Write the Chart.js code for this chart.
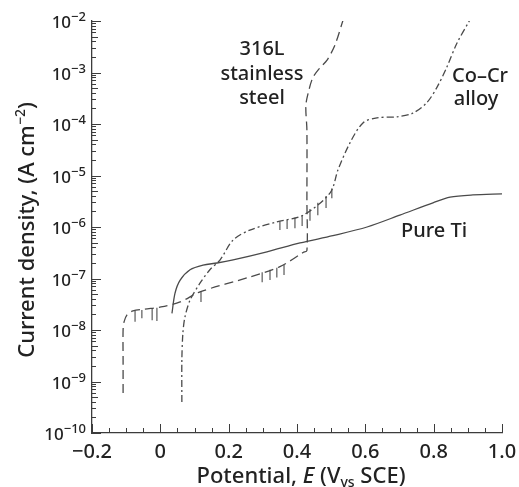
<!DOCTYPE html>
<html>
<head>
<meta charset="utf-8">
<script src="https://cdn.jsdelivr.net/npm/chart.js@4.4.1/dist/chart.umd.min.js"></script>
<style>
  html, body { margin: 0; padding: 0; background: #fff; }
  #wrap { width: 519px; height: 487px; }
</style>
</head>
<body>
<div id="wrap"><canvas id="myChart" width="519" height="487"></canvas></div>
<script>
const ctx = document.getElementById('myChart');

// potential (V vs SCE) and current density (A cm-2)
const ssE = [-0.109, -0.109, -0.109, -0.106, -0.098, -0.080, -0.045, 0.002, 0.058, 0.116, 0.262, 0.350, 0.418, 0.429, 0.429, 0.429, 0.426, 0.435, 0.447, 0.467, 0.488, 0.511, 0.535];
const ssI = [6.0e-10, 2.5e-9, 1.0e-8, 1.45e-8, 1.95e-8, 2.35e-8, 2.55e-8, 2.8e-8, 3.5e-8, 5.5e-8, 1.07e-7, 1.7e-7, 3.2e-7, 3.5e-7, 3.3e-6, 7.6e-5, 2.3e-4, 4.6e-4, 8.1e-4, 1.23e-3, 1.74e-3, 3.4e-3, 1.05e-2];

const coE = [0.063, 0.063, 0.066, 0.072, 0.087, 0.116, 0.145, 0.175, 0.213, 0.262, 0.341, 0.418, 0.497, 0.520, 0.555, 0.593, 0.634, 0.693, 0.739, 0.780, 0.810, 0.839, 0.868, 0.906];
const coI = [4.0e-10, 2.6e-9, 8.7e-9, 1.78e-8, 3.8e-8, 8.1e-8, 1.48e-7, 2.3e-7, 5.6e-7, 8.7e-7, 1.26e-6, 1.7e-6, 4.6e-6, 1.29e-5, 4.3e-5, 1.05e-4, 1.32e-4, 1.38e-4, 1.62e-4, 2.6e-4, 5.2e-4, 1.29e-3, 3.7e-3, 1.05e-2];

const tiE = [0.034, 0.043, 0.058, 0.087, 0.125, 0.166, 0.213, 0.312, 0.409, 0.505, 0.605, 0.701, 0.798, 0.848, 0.915, 1.0];
const tiI = [2.1e-8, 5.2e-8, 9.3e-8, 1.48e-7, 1.82e-7, 2.0e-7, 2.3e-7, 3.3e-7, 4.9e-7, 6.8e-7, 1.0e-6, 1.7e-6, 2.95e-6, 3.8e-6, 4.2e-6, 4.4e-6];

// current transients (small spikes) on the curves
const ssSpikeE = [-0.074, -0.054, -0.024, -0.010, 0.119, 0.298, 0.321, 0.341, 0.362];
const ssSpikeTop = [2.4e-8, 2.45e-8, 2.6e-8, 2.7e-8, 5.6e-8, 1.32e-7, 1.48e-7, 1.62e-7, 1.82e-7];
const ssSpikeLow = [1.45e-8, 1.7e-8, 1.55e-8, 1.5e-8, 3.5e-8, 8.5e-8, 9.3e-8, 1.05e-7, 1.17e-7];

const coSpikeE = [0.350, 0.371, 0.394, 0.415, 0.438, 0.461, 0.485, 0.502];
const coSpikeTop = [1.29e-6, 1.38e-6, 1.51e-6, 1.7e-6, 2.24e-6, 2.95e-6, 4.0e-6, 5.6e-6];
const coSpikeLow = [8.7e-7, 9.1e-7, 9.5e-7, 1.05e-6, 1.32e-6, 1.7e-6, 2.34e-6, 3.6e-6];

// axis labels
const xTickValues = [-0.2, 0, 0.2, 0.4, 0.6, 0.8, 1.0];
const xTickLabels = ['\u22120.2', '0', '0.2', '0.4', '0.6', '0.8', '1.0'];
const yExponents = [-2, -3, -4, -5, -6, -7, -8, -9, -10];

const FONT = '"Noto Sans", "Liberation Sans", Arial, sans-serif';
const W = '500 ';
const textColor = '#222222';
const lineColor = '#4a4a4a';
const axisColor = '#3c3c3c';

function toPoints(xs, ys) {
  return xs.map((v, i) => ({ x: v, y: ys[i] }));
}
function spikes(xs, tops, lows) {
  const pts = [];
  xs.forEach((v, i) => {
    pts.push({ x: v, y: tops[i] }, { x: v, y: lows[i] }, { x: v, y: null });
  });
  return pts;
}

// draw a list of text runs one after another
function drawRuns(c, runs, x, y) {
  let cx = x;
  runs.forEach(r => {
    c.font = r.font;
    c.fillText(r.text, cx, y + (r.dy || 0));
    cx += c.measureText(r.text).width;
  });
}
function runsWidth(c, runs) {
  let w = 0;
  runs.forEach(r => { c.font = r.font; w += c.measureText(r.text).width; });
  return w;
}

const axisDecor = {
  id: 'axisDecor',
  afterDraw(chart) {
    const c = chart.ctx;
    const xs = chart.scales.x, ys = chart.scales.y;
    const bottom = ys.bottom, left = xs.left;
    c.save();
    c.strokeStyle = axisColor;
    c.lineWidth = 1;

    // x ticks, pointing inward
    for (let i = 0; i <= 24; i++) {
      const px = Math.round(xs.getPixelForValue(-0.2 + i * 0.05)) + 0.5;
      const len = i % 4 === 0 ? 9 : 5;
      c.beginPath(); c.moveTo(px, bottom); c.lineTo(px, bottom - len); c.stroke();
    }
    // y ticks, pointing inward
    for (let e = -10; e <= -2; e++) {
      for (let m = 1; m <= 9; m++) {
        if (e === -2 && m > 1) break;
        const py = Math.round(ys.getPixelForValue(m * Math.pow(10, e))) + 0.5;
        const len = m === 1 ? 9 : (m === 5 ? 6 : 4);
        c.beginPath(); c.moveTo(left, py); c.lineTo(left + len, py); c.stroke();
      }
    }

    c.fillStyle = textColor;
    c.textBaseline = 'alphabetic';

    // x tick labels
    c.font = W + '20px ' + FONT;
    c.textAlign = 'center';
    xTickValues.forEach((v, i) => {
      c.fillText(xTickLabels[i], xs.getPixelForValue(v), 458);
    });

    // y tick labels 10^n
    c.textAlign = 'left';
    yExponents.forEach(e => {
      const py = ys.getPixelForValue(Math.pow(10, e));
      const runs = [
        { text: '10', font: W + '17px ' + FONT, dy: 7 },
        { text: '\u2212' + (-e), font: W + '13px ' + FONT, dy: 0 }
      ];
      drawRuns(c, runs, 86 - runsWidth(c, runs), py);
    });

    // x axis title
    const xt = [
      { text: 'Potential, ', font: W + '22px ' + FONT },
      { text: 'E', font: 'italic ' + W + '22px ' + FONT },
      { text: ' (V', font: W + '22px ' + FONT },
      { text: 'vs', font: W + '14px ' + FONT, dy: 4 },
      { text: ' SCE)', font: W + '22px ' + FONT }
    ];
    drawRuns(c, xt, 301 - runsWidth(c, xt) / 2, 483);

    // y axis title
    c.save();
    c.translate(34, 230);
    c.rotate(-Math.PI / 2);
    const yt = [
      { text: 'Current density, (A cm', font: W + '22px ' + FONT },
      { text: '\u22122', font: W + '14px ' + FONT, dy: -9 },
      { text: ')', font: W + '22px ' + FONT }
    ];
    drawRuns(c, yt, -runsWidth(c, yt) / 2, 0);
    c.restore();

    // curve labels
    c.textAlign = 'center';
    c.font = W + '20px ' + FONT;
    c.fillText('316L', 262, 55);
    c.fillText('stainless', 262, 80);
    c.fillText('steel', 262, 104);
    c.fillText('Co\u2013Cr', 480, 82);
    c.fillText('alloy', 476, 105);
    c.fillText('Pure Ti', 434, 237);
    c.restore();
  }
};

new Chart(ctx, {
  type: 'scatter',
  data: {
    datasets: [
      {
        label: '316L stainless steel',
        data: toPoints(ssE, ssI),
        showLine: true, borderColor: lineColor, borderWidth: 1.3,
        borderDash: [9, 5], pointRadius: 0, tension: 0.3
      },
      {
        label: 'Co–Cr alloy',
        data: toPoints(coE, coI),
        showLine: true, borderColor: lineColor, borderWidth: 1.3,
        borderDash: [7, 3, 2, 3], pointRadius: 0, tension: 0.3
      },
      {
        label: 'Pure Ti',
        data: toPoints(tiE, tiI),
        showLine: true, borderColor: lineColor, borderWidth: 1.3,
        pointRadius: 0, tension: 0.3
      },
      {
        label: '316L transients',
        data: spikes(ssSpikeE, ssSpikeTop, ssSpikeLow),
        showLine: true, spanGaps: false, borderColor: lineColor, borderWidth: 1.1,
        pointRadius: 0, tension: 0
      },
      {
        label: 'Co–Cr transients',
        data: spikes(coSpikeE, coSpikeTop, coSpikeLow),
        showLine: true, spanGaps: false, borderColor: lineColor, borderWidth: 1.1,
        pointRadius: 0, tension: 0
      }
    ]
  },
  options: {
    responsive: false,
    animation: false,
    layout: { padding: { left: 92, right: 17, top: 21, bottom: 54 } },
    plugins: { legend: { display: false }, tooltip: { enabled: false } },
    scales: {
      x: {
        type: 'linear', min: -0.2, max: 1.0,
        ticks: { display: false },
        grid: { display: false, drawTicks: false },
        border: { display: true, color: axisColor, width: 1.3 }
      },
      y: {
        type: 'logarithmic', min: 1e-10, max: 1e-2,
        ticks: { display: false },
        grid: { display: false, drawTicks: false },
        border: { display: true, color: axisColor, width: 1.3 }
      }
    }
  },
  plugins: [axisDecor]
});
</script>
</body>
</html>
